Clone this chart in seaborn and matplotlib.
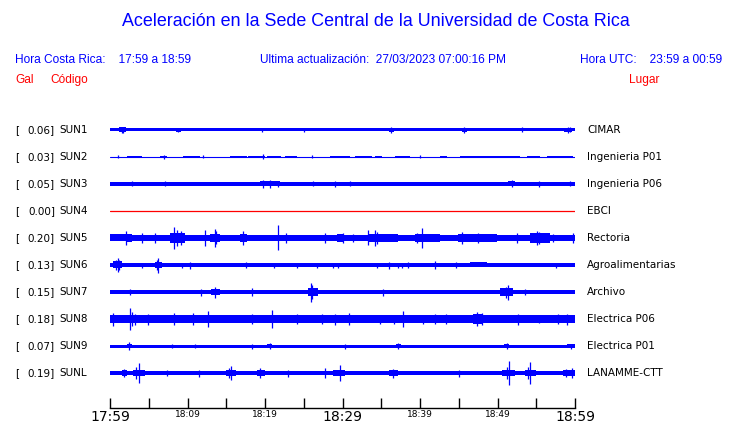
import numpy as np
import pandas as pd
import matplotlib
matplotlib.use("Agg")
import matplotlib.pyplot as plt
import seaborn as sns

# ---------------- data ----------------
codes = ["SUN1", "SUN2", "SUN3", "SUN4", "SUN5", "SUN6", "SUN7", "SUN8", "SUN9", "SUNL"]
gal = [0.06, 0.03, 0.05, 0.00, 0.20, 0.13, 0.15, 0.18, 0.07, 0.19]
places = ["CIMAR", "Ingenieria P01", "Ingenieria P06", "EBCI", "Rectoria",
          "Agroalimentarias", "Archivo", "Electrica P06", "Electrica P01", "LANAMME-CTT"]

# baseline half-amplitude of each trace (pixel-like amplitude units)
base_amp = [1.5, 0.5, 1.9, 0.0, 3.1, 1.9, 1.9, 3.6, 1.5, 2.1]

# thicker stretches: (start minute, end minute, half-amplitude)
bands_sun1 = [(1.1, 2.0, 2.5), (8.5, 9.2, 1.9), (36.0, 36.6, 2.0), (45.4, 46.0, 2.0), (58.6, 59.6, 2.2)]
bands_sun2 = [(2.2, 4.1, 1.2), (6.5, 7.4, 1.2), (9.4, 11.6, 1.2), (15.5, 17.7, 1.2), (17.8, 20.0, 1.2),
              (20.3, 22.0, 1.2), (22.6, 24.1, 1.2), (28.4, 31.0, 1.2), (31.6, 33.8, 1.2),
              (34.2, 35.1, 1.2), (36.8, 38.7, 1.2), (42.6, 43.5, 1.2), (45.2, 52.9, 1.2),
              (53.8, 55.5, 1.2), (56.4, 59.7, 1.2)]
bands_sun3 = [(2.3, 3.9, 2.3), (6.8, 7.5, 2.2), (19.4, 21.9, 2.5), (28.6, 29.4, 2.2), (51.4, 52.3, 2.5),
              (54.9, 55.8, 2.3), (58.6, 60.0, 2.2)]
bands_sun4 = []
bands_sun5 = [(0.0, 2.0, 3.5), (2.0, 2.8, 4.0), (7.7, 9.7, 4.8), (12.9, 14.2, 4.4), (16.8, 17.7, 4.4),
              (27.5, 30.3, 3.4), (29.3, 30.2, 3.7), (33.3, 37.2, 4.0), (39.4, 42.6, 3.7),
              (44.9, 49.9, 3.7), (54.2, 56.8, 4.8), (56.8, 60.0, 3.3)]
bands_sun6 = [(0.4, 1.6, 3.5), (5.8, 6.7, 3.1), (28.7, 30.7, 2.4), (46.5, 48.6, 2.5), (52.3, 53.8, 2.4)]
bands_sun7 = [(0.6, 1.9, 2.5), (3.2, 4.5, 2.5), (5.8, 8.0, 2.5), (13.0, 14.2, 2.8), (17.8, 19.6, 2.5),
              (23.2, 25.2, 2.5), (25.5, 26.8, 4.3), (29.7, 31.4, 2.5), (31.9, 32.6, 2.5),
              (39.0, 41.0, 2.5), (41.7, 43.9, 2.5), (50.3, 52.0, 3.9), (53.2, 54.8, 2.5),
              (56.1, 59.7, 2.2)]
bands_sun8 = [(0.0, 4.9, 4.4), (12.3, 13.5, 4.4), (16.5, 20.9, 4.1), (26.1, 30.3, 4.2),
              (29.7, 32.3, 4.2), (39.4, 40.9, 4.1), (46.8, 48.1, 4.6), (57.2, 59.0, 4.2)]
bands_sun9 = [(2.2, 2.8, 2.0), (20.3, 20.9, 1.9), (36.9, 37.5, 1.9), (50.9, 51.5, 1.9), (59.0, 60.0, 1.9)]
bands_sunl = [(1.5, 2.2, 2.8), (3.0, 4.5, 3.2), (15.0, 16.3, 3.2), (19.0, 20.0, 2.8), (28.8, 30.3, 3.0),
              (36.0, 37.2, 2.8), (50.6, 52.2, 3.2), (53.6, 55.0, 3.2), (58.5, 60.0, 3.2)]
bands = [bands_sun1, bands_sun2, bands_sun3, bands_sun4, bands_sun5,
         bands_sun6, bands_sun7, bands_sun8, bands_sun9, bands_sunl]

# spikes: (minute after 17:59, half-amplitude)
spikes_sun1 = [(1.5, 3.3), (1.7, 3.0), (8.8, 2.2), (19.6, 2.0), (25.0, 2.0), (36.3, 3.0),
               (45.7, 3.0), (53.2, 2.5), (59.1, 3.0), (59.4, 2.5)]
spikes_sun2 = [(19.7, 2.5), (7.0, 2.0), (1.0, 1.5), (12.0, 1.5), (26.0, 1.5), (40.0, 1.5)]
spikes_sun3 = [(2.8, 2.5), (7.1, 2.5), (19.7, 4.0), (20.6, 4.0), (21.7, 3.0), (29.0, 3.0),
               (31.0, 2.5), (51.9, 3.5), (55.4, 3.0), (59.4, 2.5), (26.2, 2.5)]
spikes_sun4 = []
spikes_sun5 = [(2.0, 7.3), (4.1, 4.5), (5.8, 4.5), (8.3, 10.7), (8.7, 8.0), (9.1, 7.0), (12.3, 8.0),
               (13.5, 9.3), (13.7, 6.5), (17.2, 7.3), (21.7, 12.5), (22.7, 5.0), (27.7, 5.0),
               (30.0, 5.0), (31.4, 4.0), (33.3, 7.5), (34.2, 8.0), (34.5, 6.0), (39.6, 5.0),
               (40.3, 9.5), (45.4, 6.0), (47.5, 5.0), (52.5, 4.5), (55.1, 7.0), (55.4, 6.0),
               (57.2, 4.0), (59.7, 5.0)]
spikes_sun6 = [(1.0, 7.0), (0.8, 5.0), (1.2, 5.0), (4.1, 2.5), (6.2, 7.5), (6.0, 5.0), (9.3, 2.5),
               (10.3, 3.5), (17.6, 3.0), (21.1, 2.5), (24.1, 2.5), (26.7, 2.5), (28.8, 2.5),
               (29.4, 2.5), (34.4, 2.5), (36.0, 3.5), (37.2, 2.5), (37.7, 2.5), (38.5, 3.0),
               (41.9, 4.0), (44.7, 3.0), (57.6, 2.5)]
spikes_sun7 = [(2.6, 3.0), (11.8, 3.5), (13.5, 5.5), (18.3, 4.0), (25.9, 9.5), (26.1, 7.0),
               (35.2, 3.5), (51.3, 7.5), (51.1, 5.5), (53.5, 3.0)]
spikes_sun8 = [(0.4, 6.5), (2.6, 10.7), (2.8, 7.0), (3.2, 5.5), (4.9, 5.5), (8.2, 6.0),
               (10.7, 6.0), (12.7, 8.0), (18.3, 5.0), (20.9, 8.7), (24.1, 5.0), (27.3, 5.0),
               (29.0, 5.5), (30.8, 6.0), (34.9, 4.5), (36.6, 4.5), (37.8, 8.0), (40.4, 4.5),
               (41.9, 5.0), (43.4, 5.0), (47.4, 7.0), (48.0, 6.0), (52.7, 5.5), (55.3, 4.0),
               (57.8, 5.0), (59.0, 5.5)]
spikes_sun9 = [(2.5, 4.3), (8.0, 2.0), (11.0, 2.0), (18.3, 2.5), (20.6, 3.0), (30.3, 2.5),
               (37.2, 3.0), (51.2, 3.0), (59.5, 2.5)]
spikes_sunl = [(1.8, 4.0), (3.4, 6.0), (3.7, 9.7), (7.3, 3.0), (11.5, 3.5), (15.3, 5.0), (15.6, 7.3),
               (19.4, 5.0), (23.0, 3.5), (27.7, 5.0), (29.7, 8.3), (36.5, 4.5), (45.0, 3.5),
               (51.2, 6.0), (51.5, 12.0), (53.9, 6.0), (54.2, 10.7), (58.9, 4.0), (59.6, 5.0)]
spikes = [spikes_sun1, spikes_sun2, spikes_sun3, spikes_sun4, spikes_sun5,
          spikes_sun6, spikes_sun7, spikes_sun8, spikes_sun9, spikes_sunl]

tick_minutes = list(range(0, 61, 5))
tick_labels = ["17:59", "", "18:09", "", "18:19", "", "18:29", "", "18:39", "", "18:49", "", "18:59"]
big_ticks = ["17:59", "18:29", "18:59"]

# ---------------- figure ----------------
sns.set_theme(style="white")
plt.rcParams["font.family"] = ["DejaVu Sans"]

W, H = 740, 423
fig = plt.figure(figsize=(W / 100, H / 100), dpi=100)
BLUE = "#0000ff"
RED = "#ff0000"

def ftext(x, y, s, **kw):
    fig.text(x / W, 1 - y / H, s, **kw)

hdr = dict(family=["Liberation Sans", "DejaVu Sans"], va="center")
ftext(375.5, 22, "Aceleración en la Sede Central de la Universidad de Costa Rica",
      ha="center", color=BLUE, fontsize=12.9, **hdr)
ftext(15, 60, "Hora Costa Rica:    17:59 a 18:59", ha="left", color=BLUE, fontsize=8.6, **hdr)
ftext(260, 60, "Ultima actualización:  27/03/2023 07:00:16 PM", ha="left", color=BLUE, fontsize=8.6, **hdr)
ftext(580, 60, "Hora UTC:    23:59 a 00:59", ha="left", color=BLUE, fontsize=8.6, **hdr)
ftext(15, 80, "Gal", ha="left", color=RED, fontsize=8.6, **hdr)
ftext(50, 80, "Código", ha="left", color=RED, fontsize=8.6, **hdr)
ftext(629, 80, "Lugar", ha="left", color=RED, fontsize=8.6, **hdr)

# axes: rows at pixel 130 + 27*i, axis line at 408
top_px, bot_px, left_px, right_px = 117, 408, 110, 575
ax = fig.add_axes([left_px / W, 1 - bot_px / H, (right_px - left_px) / W, (bot_px - top_px) / H])
row_px = 27.0
ax.set_xlim(0, 60)
ax.set_ylim((bot_px - 130) / row_px, -(130 - top_px) / row_px)
ax.set_facecolor("none")

scale = 1 / row_px
for i, code in enumerate(codes):
    y_px = 130 + 27 * i
    if code == "SUN4":
        df = pd.DataFrame({"t": [0, 60], "y": [i, i]})
        sns.lineplot(data=df, x="t", y="y", ax=ax, color=RED, lw=0.9)
    else:
        b = base_amp[i] * scale
        if code == "SUN2":
            ax.plot([0, 60], [i, i], color=BLUE, lw=0.8)
        else:
            ax.fill_between([0, 60], i - b, i + b, color=BLUE, lw=0)
        for s0, s1, a in bands[i]:
            ax.fill_between([s0, s1], i - a * scale, i + a * scale, color=BLUE, lw=0)
        for t, a in spikes[i]:
            ax.vlines(t, i - a * scale, i + a * scale, color=BLUE, lw=0.9)
    ftext(15, y_px, "[", ha="left", va="center", fontsize=7.5, color="black")
    ftext(55, y_px, f"{gal[i]:.2f}]", ha="right", va="center", fontsize=7.5, color="black")
    ftext(59, y_px, code, ha="left", va="center", fontsize=7.5, color="black")
    ftext(587, y_px, places[i], ha="left", va="center", fontsize=7.5, color="black")

for side in ["top", "left", "right"]:
    ax.spines[side].set_visible(False)
ax.spines["bottom"].set_color("black")
ax.spines["bottom"].set_linewidth(1.0)
ax.set_yticks([])
ax.set_xticks(tick_minutes)
ax.set_xticklabels(tick_labels)
ax.tick_params(axis="x", direction="in", length=7, width=1.0, color="black", pad=1.5, bottom=True)
for lab in ax.get_xticklabels():
    lab.set_fontsize(10 if lab.get_text() in big_ticks else 6.5)
    lab.set_color("black")
ax.set_xlabel("")
ax.set_ylabel("")
ax.grid(False)

fig.savefig("out.png", dpi=100)
